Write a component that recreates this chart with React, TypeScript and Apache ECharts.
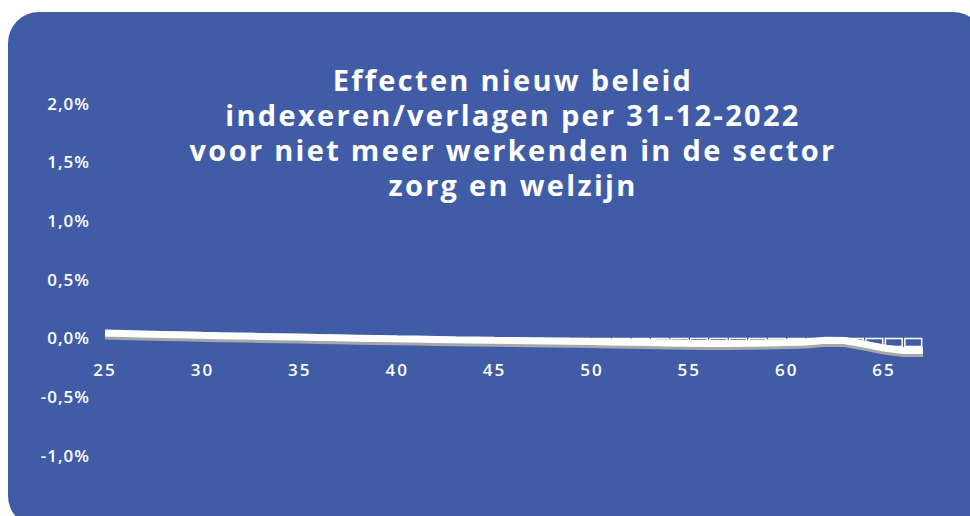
import React, { useEffect, useRef } from "react";
import * as echarts from "echarts";

const ages = [25,26,27,28,29,30,31,32,33,34,35,36,37,38,39,40,41,42,43,44,45,46,47,48,49,50,51,52,53,54,55,56,57,58,59,60,61,62,63,64,65,66,67].map(String);
const effect = [0.040,0.036,0.032,0.028,0.024,0.020,0.017,0.014,0.011,0.008,0.005,0.002,-0.001,-0.004,-0.007,-0.010,-0.012,-0.015,-0.018,-0.020,-0.023,-0.025,-0.027,-0.029,-0.031,-0.033,-0.036,-0.039,-0.042,-0.045,-0.048,-0.049,-0.049,-0.048,-0.046,-0.042,-0.036,-0.022,-0.024,-0.055,-0.088,-0.110,-0.110];
const barAges = ages.slice(1);
const barValues = [null,null,null,null,null,null,null,null,null,null,null,null,null,null,null,null,null,null,null,null,null,-0.045,-0.047,-0.049,-0.051,-0.054,-0.057,-0.060,-0.062,-0.064,-0.064,-0.064,-0.063,-0.062,-0.058,-0.050,-0.044,-0.050,-0.070,-0.080,-0.082,-0.082];
const yTicks = [-1.0, -0.5, 0.0, 0.5, 1.0, 1.5, 2.0];
const titleLines = ["Effecten nieuw beleid", "indexeren/verlagen per 31-12-2022", "voor niet meer werkenden in de sector", "zorg en welzijn"];

const GRID = { left: 105, right: 47, top: 103, bottom: 61 };
const CH = 516;

export default function App() {
  const ref = useRef<HTMLDivElement>(null);
  useEffect(() => {
    const el = ref.current!;
    const chart = echarts.init(el, null, { renderer: "svg" });
    const yMin = yTicks[0];
    const yMax = yTicks[yTicks.length - 1];
    const plotH = CH - GRID.top - GRID.bottom;
    const zeroOffset = -plotH * (0 - yMin) / (yMax - yMin);
    chart.setOption({
      animation: false,
      backgroundColor: "#ffffff",
      graphic: [
        { type: "rect", z: -10, shape: { x: 8, y: 12, width: 976, height: 515, r: 31 }, style: { fill: "#415CA7" } },
      ],
      title: {
        text: titleLines.join("\n"),
        left: 508,
        textAlign: "center",
        top: 57,
        textStyle: { color: "#ffffff", fontFamily: "Open Sans", fontWeight: "bold", fontSize: 29, lineHeight: 35 },
      },
      grid: GRID,
      xAxis: [
        {
          type: "category",
          data: ages,
          boundaryGap: false,
          position: "bottom",
          offset: zeroOffset,
          axisLine: { show: false, onZero: false },
          axisTick: { show: false },
          splitLine: { show: false },
          axisLabel: { interval: 4, color: "#ffffff", fontFamily: "Open Sans", fontWeight: 600, fontSize: 17, margin: 23 },
        },
        {
          type: "category",
          data: barAges,
          boundaryGap: true,
          show: false,
          axisLine: { onZero: false },
        },
      ],
      yAxis: {
        type: "value",
        min: yMin,
        max: yMax,
        interval: 0.5,
        splitLine: { show: false },
        axisLine: { show: false },
        axisTick: { show: false },
        axisLabel: {
          color: "#ffffff",
          fontFamily: "Open Sans",
          fontWeight: 600,
          fontSize: 17,
          margin: 15,
          formatter: (v: number) => v.toFixed(1).replace(".", ",") + "%",
        },
      },
      series: [
        {
          type: "bar",
          xAxisIndex: 1,
          data: barValues,
          barCategoryGap: "6%",
          itemStyle: { color: "rgba(0,0,0,0)", borderColor: "#ffffff", borderWidth: 1.5 },
          z: 1,
        },
        {
          type: "line",
          data: effect,
          symbol: "none",
          lineStyle: { color: "#ffffff", width: 7, shadowColor: "rgba(170,170,170,0.95)", shadowOffsetY: 3, shadowBlur: 1 },
          z: 3,
        },
      ],
    });
    const xSet = new Set(ages);
    el.querySelectorAll("text").forEach((t) => {
      const s = (t.textContent || "").trim();
      if (titleLines.includes(s)) (t as SVGTextElement).style.letterSpacing = "2.3px";
      else if (xSet.has(s)) (t as SVGTextElement).style.letterSpacing = "2px";
      else if (s.endsWith("%")) (t as SVGTextElement).style.letterSpacing = "1px";
    });
    return () => chart.dispose();
  }, []);
  return <div ref={ref} style={{ position: "fixed", left: 0, top: 0, width: 970, height: CH }} />;
}
